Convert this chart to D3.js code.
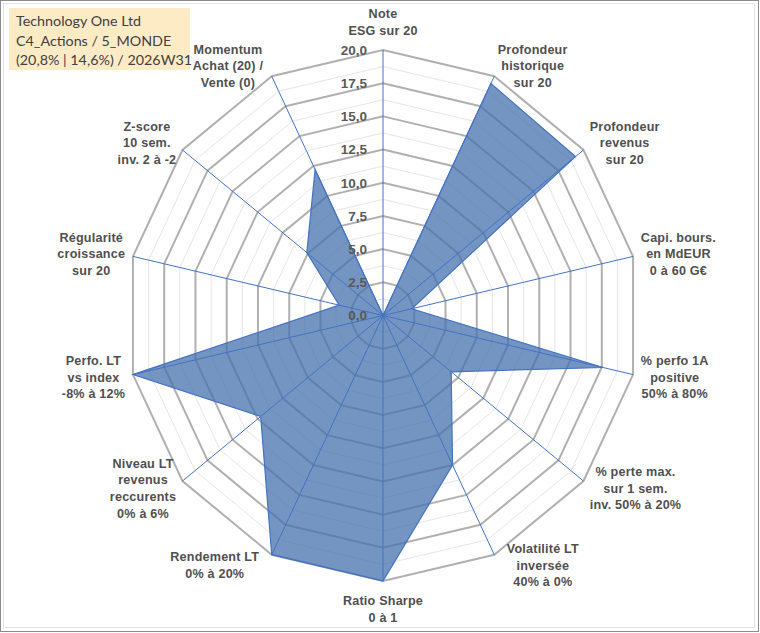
<!DOCTYPE html>
<html><head><meta charset="utf-8">
<script src="https://cdn.jsdelivr.net/npm/d3@7"></script>
<style>body{margin:0;background:#fff}svg{display:block}</style>
</head><body>
<svg id="c" width="760" height="633"></svg>
<script>
const categories = [
  ["Note","ESG sur 20"],
  ["Profondeur","historique","sur 20"],
  ["Profondeur","revenus","sur 20"],
  ["Capi. bours.","en MdEUR","0 à 60 G€"],
  ["% perfo 1A","positive","50% à 80%"],
  ["% perte max.","sur 1 sem.","inv. 50% à 20%"],
  ["Volatilité LT","inversée","40% à 0%"],
  ["Ratio Sharpe","0 à 1"],
  ["Rendement LT","0% à 20%"],
  ["Niveau LT","revenus","reccurents","0% à 6%"],
  ["Perfo. LT","vs index","-8% à 12%"],
  ["Régularité","croissance","sur 20"],
  ["Z-score","10 sem.","inv. 2 à -2"],
  ["Momentum","Achat (20) /","Vente (0)"]
];
const values = [0, 19.4, 19.2, 2.3, 17.6, 6.8, 12.5, 20, 20, 12.2, 20, 3.5, 7.6, 12.2];
const tickValues = [0, 2.5, 5, 7.5, 10, 12.5, 15, 17.5, 20];
const minorValues = [1.25, 3.75, 6.25, 8.75, 11.25, 13.75, 16.25, 18.75];
const titleLines = ["Technology One Ltd", "C4_Actions / 5_MONDE", "(20,8% | 14,6%) / 2026W31"];

const svg = d3.select("#c");
const cx = 383, cy = 315.5, Ry = 265.5, xs = 0.966;
const r = d3.scaleLinear().domain([0, 20]).range([0, Ry]);
const n = categories.length;
const ang = d3.scaleLinear().domain([0, n]).range([0, 2 * Math.PI]);
const pt = (i, v) => [cx + xs * r(v) * Math.sin(ang(i)), cy - r(v) * Math.cos(ang(i))];

// frame
svg.append("rect").attr("x", 0.5).attr("y", 0.5).attr("width", 758).attr("height", 631)
  .attr("fill", "#fff").attr("stroke", "#8c8c8c").attr("stroke-width", 1);
svg.append("rect").attr("x", 3.5).attr("y", 3.5).attr("width", 751).attr("height", 624)
  .attr("fill", "none").attr("stroke", "#e3e3e3").attr("stroke-width", 1);

// title box
svg.append("rect").attr("x", 9).attr("y", 8).attr("width", 181).attr("height", 62).attr("fill", "#fdebc6");
svg.append("g").selectAll("text").data(titleLines).join("text")
  .attr("x", 16).attr("y", (d, i) => 26 + i * 19.5)
  .attr("font-family", "Lato, Open Sans, sans-serif").attr("font-size", 14.3).attr("fill", "#404040")
  .text(d => d);

const ring = v => d3.range(n).map(i => pt(i, v));
const line = d3.line().curve(d3.curveLinearClosed);

// minor grid
svg.append("g").selectAll("path").data(minorValues).join("path")
  .attr("d", v => line(ring(v))).attr("fill", "none").attr("stroke", "#e6e6e6").attr("stroke-width", 1);
// major grid
svg.append("g").selectAll("path").data(tickValues.filter(v => v > 0)).join("path")
  .attr("d", v => line(ring(v))).attr("fill", "none").attr("stroke", "#b0b0b0").attr("stroke-width", 2);

// data
svg.append("path").attr("d", line(values.map((v, i) => pt(i, v))))
  .attr("fill", "#4672ae").attr("fill-opacity", 0.75).attr("stroke", "#4472C4").attr("stroke-width", 1.2);

// spokes
svg.append("g").selectAll("line").data(d3.range(n)).join("line")
  .attr("x1", cx).attr("y1", cy).attr("x2", i => pt(i, 20)[0]).attr("y2", i => pt(i, 20)[1])
  .attr("stroke", "#4472C4").attr("stroke-width", 1);

// tick labels
svg.append("g").selectAll("text").data(tickValues).join("text")
  .attr("x", cx - 16).attr("y", v => cy - r(v)).attr("dy", "0.36em")
  .attr("text-anchor", "end").attr("font-family", "Liberation Sans, Arial, sans-serif")
  .attr("font-weight", "bold").attr("font-size", 13.5).attr("fill", "#595959")
  .text(v => d3.format(".1f")(v).replace(".", ","));

// axis labels
const lh = 16.6;
const lab = svg.append("g").attr("font-family", "Liberation Sans, Arial, sans-serif")
  .attr("font-weight", "bold").attr("font-size", 12.6).attr("letter-spacing", 0.2).attr("fill", "#4f4f4f");
categories.forEach((lines, i) => {
  const dx = Math.sin(ang(i)), dy = -Math.cos(ang(i));
  const t = lab.append("text").attr("text-anchor", "middle");
  lines.forEach((s, j) => t.append("tspan").attr("x", 0).attr("y", j * lh).text(s));
  const w = t.node().getBBox().width;
  const h = lines.length * lh;
  const sx = Math.abs(dx) < 0.1 ? 0 : Math.sign(dx);
  const sy = Math.abs(dx) < 0.1 ? Math.sign(dy) : 0;
  const extra = (Math.abs(dx) > 0.3 && Math.abs(dx) < 0.5 && dy > 0) ? 9 : (dx < -0.3 && dx > -0.5 ? 5 : 0);
  const mx = cx + dx * (xs * Ry + 8) + sx * (w / 2 + extra);
  const my = cy + dy * (Ry + 11.5) + sy * h / 2;
  t.attr("transform", `translate(${mx},${my - h / 2 + lh / 2 + 4.5})`);
});
</script>
</body></html>
